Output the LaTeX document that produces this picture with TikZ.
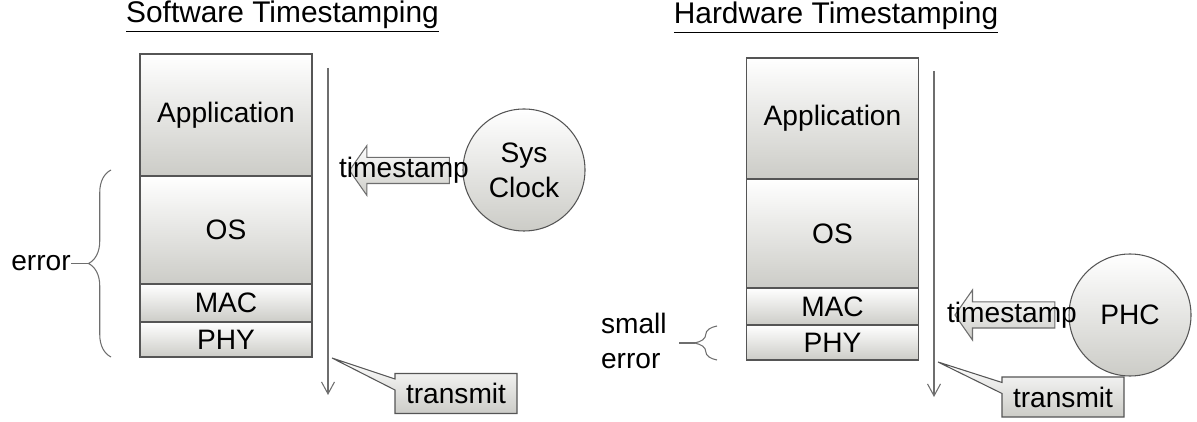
\documentclass[tikz,border=0pt]{standalone}
\usepackage{fontspec}
\setmainfont{Liberation Sans}
\usetikzlibrary{positioning, arrows.meta, shapes.arrows, shapes.callouts, decorations.pathreplacing}
\definecolor{layergray}{RGB}{204,204,199}
\definecolor{edgegray}{RGB}{85,85,85}
\definecolor{wiregray}{RGB}{110,110,110}

\begin{document}
\begin{tikzpicture}[font=\fontsize{16}{20}\selectfont,
    layer/.style={rectangle, draw=edgegray, line width=0.9pt, top color=white, bottom color=layergray,
                  minimum width=3.44cm, inner sep=0pt, text centered},
    clock/.style={circle, draw=edgegray, line width=0.6pt, top color=white, bottom color=layergray,
                  minimum size=2.44cm, inner sep=0pt, align=center},
    stamp/.style={single arrow, draw=wiregray, line width=0.6pt, top color=white, bottom color=layergray,
                  shape border rotate=180, minimum height=2.0cm, inner xsep=0pt, inner ysep=0.25cm,
                  single arrow head extend=0.24cm, single arrow tip angle=110},
    note/.style={rectangle callout, draw=edgegray, line width=0.6pt, top color=white, bottom color=layergray,
                 minimum width=2.44cm, minimum height=0.8cm, inner sep=0pt, callout pointer width=0.22cm},
    flow/.style={-{Straight Barb[length=0.24cm, width=0.26cm]}, draw=wiregray, line width=0.6pt},
    bracket/.style={decorate, decoration={brace, amplitude=0.45cm}, draw=wiregray, line width=0.6pt},
    heading/.style={anchor=base, font=\fontsize{17}{20}\selectfont}]

    \useasboundingbox (0,0) rectangle (23.94,-8.44);

    % ---------------- software timestamping ----------------
    \node (swtitle) [heading] at (5.65,-0.45) {\underline{Software Timestamping}};
    \node (swapp) [layer, minimum height=2.44cm] at (4.52,-2.30) {Application};
    \node (swos)  [layer, minimum height=2.16cm] at (4.52,-4.60) {OS};
    \node (swmac) [layer, minimum height=0.76cm] at (4.52,-6.06) {MAC};
    \node (swphy) [layer, minimum height=0.70cm] at (4.52,-6.79) {PHY};

    \coordinate (swtop) at (6.56,-1.36);
    \coordinate (swbot) at (6.56,-7.90);
    \coordinate (swtip) at (6.64,-7.16);
    \draw [flow] (swtop) -- (swbot);

    \node (sysclk) [clock] at (10.48,-3.40) {Sys\\Clock};
    \node (swstamp) [stamp] at (8.08,-3.41) {};
    \node (swstamptxt) at (swstamp.center) {timestamp};
    \node (swtx) [note, callout absolute pointer={(swtip)}] at (9.12,-7.87) {transmit};

    \coordinate (swbrbot) at (2.22,-7.14);
    \coordinate (swbrtop) at (2.22,-3.40);
    \coordinate (swbrtip) at (1.77,-5.27);
    \draw [bracket] (swbrbot) -- (swbrtop);
    \node (swerr) [anchor=east, inner sep=0pt] at (1.42,-5.27) {error};
    \draw [draw=wiregray, line width=0.6pt] (swbrtip) -- (swerr.east);

    % ---------------- hardware timestamping ----------------
    \node (hwtitle) [heading] at (16.72,-0.48) {\underline{Hardware Timestamping}};
    \node (hwapp) [layer, minimum height=2.42cm] at (16.65,-2.37) {Application};
    \node (hwos)  [layer, minimum height=2.18cm] at (16.65,-4.67) {OS};
    \node (hwmac) [layer, minimum height=0.74cm] at (16.65,-6.13) {MAC};
    \node (hwphy) [layer, minimum height=0.70cm] at (16.65,-6.85) {PHY};

    \coordinate (hwtop) at (18.68,-1.42);
    \coordinate (hwbot) at (18.68,-7.94);
    \coordinate (hwtip) at (18.76,-7.24);
    \draw [flow] (hwtop) -- (hwbot);

    \node (phc) [clock] at (22.60,-6.30) {PHC};
    \node (hwstamp) [stamp] at (20.19,-6.30) {};
    \node (hwstamptxt) at (20.24,-6.30) {timestamp};
    \node (hwtx) [note, callout absolute pointer={(hwtip)}] at (21.26,-7.94) {transmit};

    \coordinate (hwbrbot) at (14.34,-7.20);
    \coordinate (hwbrtop) at (14.34,-6.52);
    \coordinate (hwbrtip) at (13.89,-6.86);
    \draw [bracket] (hwbrbot) -- (hwbrtop);
    \node (hwerr) [anchor=east, align=left, inner sep=0pt] at (13.34,-6.82) {small\\error};
    \draw [draw=wiregray, line width=0.6pt] (hwbrtip) -- (13.58,-6.86);
\end{tikzpicture}
\end{document}
